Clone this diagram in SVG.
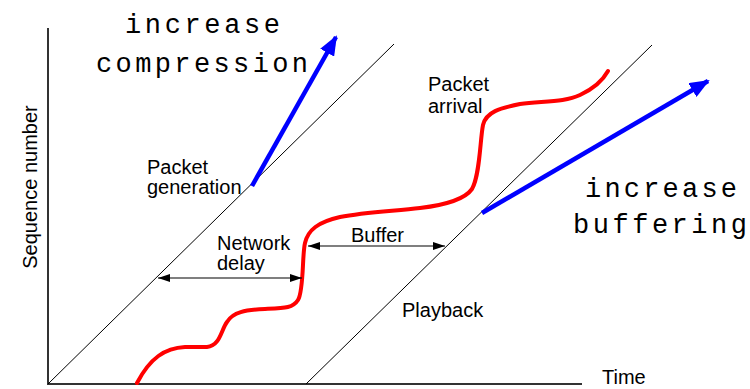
<svg xmlns="http://www.w3.org/2000/svg" width="750" height="389" viewBox="0 0 750 389">
  <style>
    .axis { stroke: #333; stroke-width: 2; fill: none; }
    .line { stroke: #000; stroke-width: 1; fill: none; }
    .dim { stroke: #000; stroke-width: 1.2; fill: none; marker-start: url(#dimHead); marker-end: url(#dimHead); }
    .arrival { stroke: #ff0000; stroke-width: 4; fill: none; stroke-linecap: round; }
    .trend { stroke: #0000ff; stroke-width: 4.5; fill: none; marker-end: url(#blueHead); }
    .lbl { font-family: "Liberation Sans", Arial, sans-serif; font-size: 20px; fill: #000; }
    .big { font-family: "Liberation Mono", "Courier New", monospace; font-size: 27px; fill: #000; }
  </style>
  <defs>
    <marker id="dimHead" viewBox="0 0 12 8" refX="12" refY="4" markerWidth="12" markerHeight="8" markerUnits="userSpaceOnUse" orient="auto-start-reverse">
      <path d="M0,0 L12,4 L0,8 Z" fill="#000"/>
    </marker>
    <marker id="blueHead" viewBox="0 0 20 16" refX="18" refY="8" markerWidth="20" markerHeight="16" markerUnits="userSpaceOnUse" orient="auto">
      <path d="M0,0 L20,8 L0,16 Z" fill="#0000ff"/>
    </marker>
  </defs>

  <!-- axes -->
  <g id="axes">
    <line class="axis" x1="48" y1="28" x2="48" y2="384" stroke="#555"/>
    <line class="axis" x1="47" y1="384" x2="582" y2="384"/>
    <text class="lbl" transform="translate(37,187) rotate(-90)" text-anchor="middle">Sequence number</text>
    <text class="lbl" x="602" y="384">Time</text>
  </g>

  <!-- packet generation line -->
  <g id="generation">
    <line class="line" x1="48" y1="384" x2="394" y2="44"/>
    <text class="lbl" x="147" y="174">Packet</text>
    <text class="lbl" x="147" y="194">generation</text>
  </g>

  <!-- playback line -->
  <g id="playback">
    <line class="line" x1="306" y1="384" x2="652" y2="45"/>
    <text class="lbl" x="402" y="317">Playback</text>
  </g>

  <!-- packet arrival curve -->
  <g id="arrival">
    <path class="arrival" d="M137,383 C150,358 165,348 185,347 L207,347 C220,346 221,330 227,322 C233,312 245,310 265,309 C285,308 293,308 298,300 C304,290 302,255 305,243 C308,230 318,222 340,217 C365,212 395,211 420,208 C445,205 465,199 472,189 C480,175 480,140 483,125 C486,112 500,108 520,104 C545,101 565,102 580,95 C595,88 603,80 608,71"/>
    <text class="lbl" x="428" y="91">Packet</text>
    <text class="lbl" x="428" y="113">arrival</text>
  </g>

  <!-- delay and buffer spans, trend arrows -->
  <g id="connectors">
    <line class="dim" x1="158" y1="278" x2="302" y2="278"/>
    <line class="dim" x1="308" y1="246" x2="445" y2="246"/>
    <path class="trend" d="M252,186 L336,37"/>
    <path class="trend" d="M482,213 L708,81"/>
  </g>

  <g id="network-delay">
    <text class="lbl" x="217" y="250">Network</text>
    <text class="lbl" x="217" y="270">delay</text>
  </g>

  <g id="buffer">
    <text class="lbl" x="351" y="242">Buffer</text>
  </g>

  <g id="compression">
    <text class="big" x="125" y="33" textLength="155" lengthAdjust="spacing">increase</text>
    <text class="big" x="96" y="72" textLength="212" lengthAdjust="spacing">compression</text>
  </g>

  <g id="buffering">
    <text class="big" x="585" y="197" textLength="152" lengthAdjust="spacing">increase</text>
    <text class="big" x="573" y="233" textLength="174" lengthAdjust="spacing">buffering</text>
  </g>
</svg>
